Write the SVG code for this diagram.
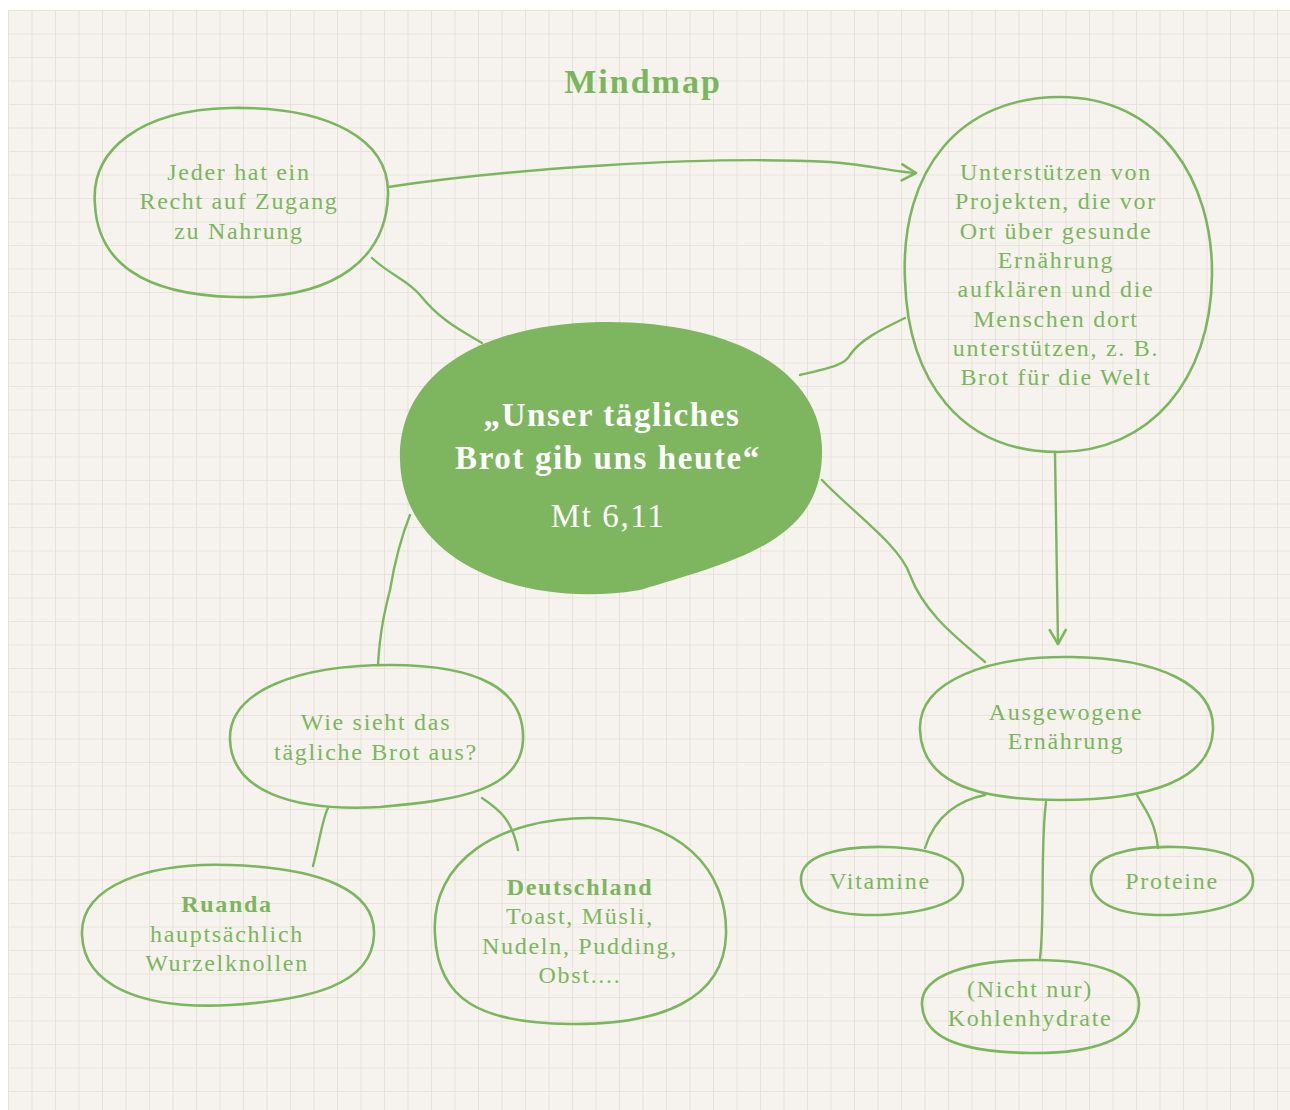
<svg xmlns="http://www.w3.org/2000/svg" width="1290" height="1110" viewBox="0 0 1290 1110">
<style>
.blob{fill:none;stroke:#7ab75c;stroke-width:2.6;stroke-linejoin:round}
.con{fill:none;stroke:#7ab75c;stroke-width:2.4;stroke-linecap:round}
.t{font-family:"Liberation Serif","DejaVu Serif",serif;font-size:24px;fill:#7ab75c;text-anchor:middle;letter-spacing:1.7px}
.b{font-weight:bold}
.ct{font-family:"Liberation Serif","DejaVu Serif",serif;fill:#ffffff;text-anchor:middle}
</style>
<defs>
<pattern id="grid" x="8" y="10" width="23.5" height="23.5" patternUnits="userSpaceOnUse">
<rect width="23.5" height="23.5" fill="#f6f3ee"/>
<path d="M0,0 V23.5 M0,0 H23.5" stroke="#e4ded6" stroke-width="1.6" fill="none"/>
</pattern>
<marker id="arr" viewBox="0 0 20 20" refX="17" refY="10" markerWidth="20" markerHeight="20" markerUnits="userSpaceOnUse" orient="auto">
<path d="M3,2 L17,10 L3,18" fill="none" stroke="#7ab75c" stroke-width="2.6" stroke-linecap="round" stroke-linejoin="round"/>
</marker>
</defs>
<rect width="1290" height="1110" fill="#ffffff"/>
<rect x="8" y="10" width="1282" height="1100" fill="url(#grid)"/>
<text x="643" y="93" class="t b" style="font-size:34px;letter-spacing:2px">Mindmap</text>
<g id="connectors">
<path class="con" d="M388,187 C 500,170 700,155 830,162 C 870,165 895,172 916,173" marker-end="url(#arr)"/>
<path class="con" d="M1055,452 C 1056,520 1057,580 1058,644" marker-end="url(#arr)"/>
<path class="con" d="M372,258 C 390,275 408,280 420,295 C 440,320 460,330 482,343"/>
<path class="con" d="M800,375 C 830,368 845,365 850,355 C 860,340 880,330 905,318"/>
<path class="con" d="M822,480 C 850,510 900,545 910,575 C 925,615 960,640 985,662"/>
<path class="con" d="M410,515 C 400,540 395,560 390,590 C 385,610 380,630 378,665"/>
<path class="con" d="M328,808 C 322,820 320,840 313,866"/>
<path class="con" d="M482,798 C 500,810 512,820 518,850"/>
<path class="con" d="M985,795 C 960,800 935,815 925,848"/>
<path class="con" d="M1046,802 C 1040,850 1045,920 1040,958"/>
<path class="con" d="M1137,795 C 1145,810 1155,820 1158,848"/>
</g>
<g id="node-center">
<path d="M400,460 C 398,380 470,325 600,322 C 730,320 825,370 822,455 C 820,540 740,560 640,590 C 520,610 402,560 400,460 Z" fill="#7db65f"/>
<text x="612" y="426" class="ct b" style="font-size:33px;letter-spacing:1.6px">„Unser tägliches</text>
<text x="608" y="469" class="ct b" style="font-size:33px;letter-spacing:1.6px">Brot gib uns heute“</text>
<text x="608" y="527" class="ct" style="font-size:33px;letter-spacing:1.6px">Mt 6,11</text>
</g>
<g id="node-recht">
<path class="blob" d="M95,205 C 90,150 140,110 230,108 C 330,106 390,140 388,195 C 386,255 340,300 235,297 C 140,295 98,260 95,205 Z"/>
<text class="t"><tspan x="239" y="180">Jeder hat ein</tspan><tspan x="239" y="209">Recht auf Zugang</tspan><tspan x="239" y="239">zu Nahrung</tspan></text>
</g>
<g id="node-projekte">
<path class="blob" d="M905,280 C 900,170 960,97 1060,97 C 1160,97 1213,180 1212,275 C 1211,380 1150,452 1058,452 C 960,452 908,380 905,280 Z"/>
<text class="t"><tspan x="1056" y="180">Unterstützen von</tspan><tspan x="1056" y="209">Projekten, die vor</tspan><tspan x="1056" y="239">Ort über gesunde</tspan><tspan x="1056" y="268">Ernährung</tspan><tspan x="1056" y="297">aufklären und die</tspan><tspan x="1056" y="327">Menschen dort</tspan><tspan x="1056" y="356">unterstützen, z. B.</tspan><tspan x="1056" y="385">Brot für die Welt</tspan></text>
</g>
<g id="node-brot">
<path class="blob" d="M230,740 C 228,690 300,665 390,665 C 480,665 525,690 523,740 C 521,790 460,800 380,807 C 290,812 232,790 230,740 Z"/>
<text class="t"><tspan x="376" y="730">Wie sieht das</tspan><tspan x="376" y="760">tägliche Brot aus?</tspan></text>
</g>
<g id="node-ruanda">
<path class="blob" d="M82,935 C 80,885 150,862 230,865 C 320,868 376,890 374,935 C 372,985 310,1000 230,1005 C 140,1010 84,985 82,935 Z"/>
<text class="t"><tspan x="227" y="912" class="b">Ruanda</tspan><tspan x="227" y="942">hauptsächlich</tspan><tspan x="227" y="971">Wurzelknollen</tspan></text>
</g>
<g id="node-deutschland">
<path class="blob" d="M435,935 C 430,860 500,818 590,818 C 680,818 728,870 726,935 C 724,1000 660,1025 570,1024 C 480,1023 438,1000 435,935 Z"/>
<text class="t"><tspan x="580" y="895" class="b">Deutschland</tspan><tspan x="580" y="924">Toast, Müsli,</tspan><tspan x="580" y="954">Nudeln, Pudding,</tspan><tspan x="580" y="983">Obst....</tspan></text>
</g>
<g id="node-ernaehrung">
<path class="blob" d="M920,730 C 918,680 990,656 1070,657 C 1160,658 1215,685 1213,730 C 1211,780 1150,800 1060,800 C 970,800 922,780 920,730 Z"/>
<text class="t"><tspan x="1066" y="720">Ausgewogene</tspan><tspan x="1066" y="749">Ernährung</tspan></text>
</g>
<g id="node-vitamine">
<path class="blob" d="M801,880 C 800,855 840,846 885,847 C 935,848 964,860 963,882 C 962,905 920,913 880,915 C 830,916 802,905 801,880 Z"/>
<text class="t" x="880" y="889">Vitamine</text>
</g>
<g id="node-proteine">
<path class="blob" d="M1091,880 C 1090,855 1130,846 1175,847 C 1225,848 1254,860 1253,882 C 1252,905 1210,913 1170,915 C 1120,916 1092,905 1091,880 Z"/>
<text class="t" x="1172" y="889">Proteine</text>
</g>
<g id="node-kohlenhydrate">
<path class="blob" d="M922,1005 C 920,975 970,960 1035,960 C 1100,960 1140,975 1139,1005 C 1138,1040 1090,1054 1030,1053 C 965,1052 924,1040 922,1005 Z"/>
<text class="t"><tspan x="1030" y="997">(Nicht nur)</tspan><tspan x="1030" y="1026">Kohlenhydrate</tspan></text>
</g>
</svg>
